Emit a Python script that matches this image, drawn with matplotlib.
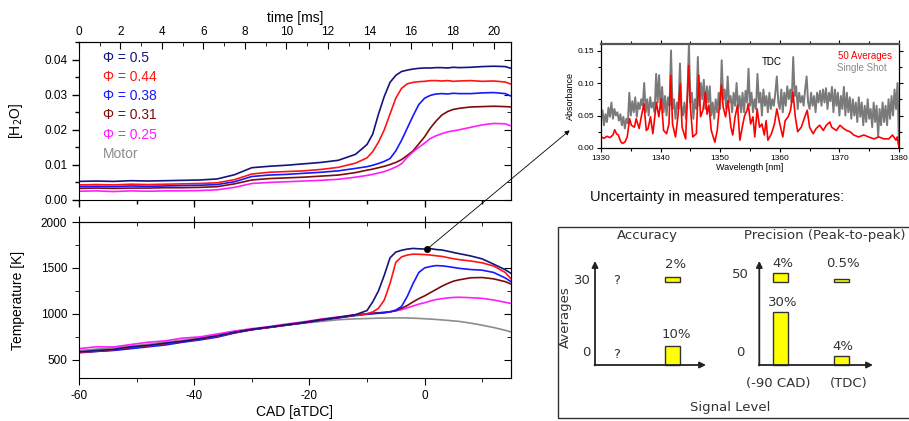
import matplotlib
matplotlib.use('Agg')
import matplotlib.pyplot as plt
import numpy as np
from matplotlib.patches import Rectangle, ConnectionPatch
from matplotlib.ticker import MultipleLocator

plt.rcParams['font.family'] = ['Liberation Sans', 'DejaVu Sans']
plt.rcParams['axes.unicode_minus'] = False

# ---- engine data ----
cad = [-60, -57, -54, -51, -48, -45, -42, -39, -36, -33, -30, -27, -24, -21, -18, -15, -12,
       -10, -9, -8, -7, -6, -5, -4, -3, -2, -1, 0, 1, 2, 3, 4, 5, 6, 8, 10, 12, 14, 15]

phi_labels = ['\u03a6 = 0.5', '\u03a6 = 0.44', '\u03a6 = 0.38', '\u03a6 = 0.31', '\u03a6 = 0.25']
phi_colors = ['#14147c', '#ff1414', '#1818ff', '#7c0c0c', '#ff1cff']
motor_color = '#8c8c8c'

h2o_050 = [.0053, .0054, .0053, .0055, .0054, .0055, .0056, .0057, .0060, .0072, .0092, .0096, .0099,
           .0103, .0107, .0113, .0130, .0158, .0188, .0245, .0295, .0335, .0355, .0366, .0370, .0373,
           .0375, .0376, .0376, .0377, .0377, .0376, .0378, .0377, .0378, .0380, .0381, .0380, .0375]
h2o_044 = [.0043, .0044, .0043, .0045, .0044, .0045, .0046, .0047, .0049, .0058, .0074, .0079, .0081,
           .0083, .0087, .0093, .0105, .0120, .0138, .0165, .0200, .0245, .0290, .0318, .0331, .0335,
           .0337, .0338, .0340, .0340, .0339, .0340, .0338, .0339, .0340, .0338, .0339, .0336, .0330]
h2o_038 = [.0038, .0039, .0038, .0040, .0039, .0040, .0041, .0042, .0044, .0052, .0067, .0071, .0073,
           .0076, .0079, .0083, .0090, .0095, .0099, .0104, .0110, .0118, .0140, .0170, .0205, .0240,
           .0272, .0290, .0298, .0302, .0303, .0302, .0304, .0303, .0303, .0305, .0306, .0303, .0296]
h2o_031 = [.0033, .0034, .0033, .0034, .0034, .0035, .0035, .0036, .0038, .0046, .0057, .0061, .0063,
           .0065, .0068, .0071, .0078, .0085, .0088, .0092, .0096, .0101, .0107, .0115, .0127, .0140,
           .0160, .0180, .0205, .0225, .0242, .0252, .0258, .0261, .0265, .0266, .0267, .0266, .0265]
h2o_025 = [.0025, .0026, .0024, .0026, .0025, .0026, .0026, .0027, .0029, .0036, .0047, .0050, .0052,
           .0054, .0056, .0059, .0065, .0070, .0073, .0077, .0081, .0087, .0094, .0103, .0122, .0137,
           .0150, .0162, .0175, .0183, .0189, .0194, .0197, .0200, .0207, .0214, .0218, .0217, .0211]

temp_050 = [585, 600, 612, 640, 655, 680, 700, 728, 760, 798, 830, 855, 880, 905, 935, 960, 990,
            1035, 1130, 1250, 1420, 1610, 1672, 1692, 1705, 1712, 1708, 1705, 1710, 1700, 1695, 1682,
            1668, 1655, 1630, 1598, 1540, 1480, 1440]
temp_044 = [580, 595, 610, 635, 650, 675, 700, 725, 755, 795, 828, 852, 878, 905, 935, 960, 985,
            1000, 1020, 1060, 1150, 1330, 1560, 1620, 1640, 1650, 1648, 1645, 1640, 1632, 1625, 1612,
            1600, 1590, 1575, 1555, 1520, 1450, 1380]
temp_038 = [575, 590, 600, 620, 640, 660, 690, 715, 745, 790, 825, 850, 875, 900, 930, 955, 980,
            995, 1000, 1005, 1010, 1020, 1040, 1080, 1190, 1330, 1450, 1500, 1515, 1525, 1522, 1515,
            1505, 1495, 1482, 1475, 1450, 1390, 1350]
temp_031 = [580, 590, 605, 625, 648, 670, 695, 722, 752, 795, 828, 852, 878, 903, 932, 958, 985,
            1000, 1005, 1010, 1015, 1022, 1035, 1060, 1090, 1130, 1165, 1195, 1230, 1265, 1300, 1330,
            1355, 1370, 1392, 1395, 1380, 1350, 1325]
temp_025 = [620, 640, 638, 665, 690, 705, 735, 748, 780, 812, 838, 860, 888, 912, 942, 965, 990,
            1000, 1005, 1010, 1015, 1022, 1030, 1045, 1065, 1085, 1105, 1120, 1140, 1155, 1165, 1172,
            1178, 1180, 1175, 1168, 1150, 1125, 1112]
temp_motor = [600, 615, 630, 648, 668, 692, 713, 738, 765, 800, 828, 853, 876, 898, 916, 935, 945,
              948, 950, 952, 953, 954, 955, 955, 954, 952, 949, 946, 942, 938, 933, 928, 922, 917,
              898, 875, 850, 820, 802]

marker_cad = 0.5
marker_temp = 1708

# ---- TDC absorption spectrum ----
red_wl = [1330.0, 1330.5, 1331.0, 1331.5, 1332.0, 1332.3, 1332.6, 1332.9, 1333.3, 1333.6, 1334.0,
          1334.4, 1334.8, 1335.1, 1335.6, 1335.9, 1336.4, 1336.8, 1337.2, 1337.6, 1337.9, 1338.3,
          1338.7, 1339.3, 1339.7, 1340.1, 1340.5, 1341.0, 1341.4, 1341.7, 1342.0, 1342.5, 1342.9,
          1343.3, 1343.6, 1344.2, 1344.7, 1345.0, 1345.4, 1346.0, 1346.4, 1346.7, 1347.1, 1347.5,
          1347.8, 1348.1, 1348.5, 1349.1, 1349.5, 1350.2, 1350.5, 1350.9, 1351.3, 1351.8, 1352.1,
          1352.5, 1352.9, 1353.3, 1353.7, 1354.1, 1354.5, 1354.7, 1355.1, 1355.5, 1355.8, 1356.2,
          1356.6, 1357.0, 1357.4, 1357.7, 1358.0, 1358.6, 1359.1, 1359.5, 1360.0, 1360.5, 1360.9,
          1361.4, 1361.8, 1362.2, 1362.6, 1363.0, 1363.6, 1364.2, 1364.6, 1365.0, 1365.6, 1366.1,
          1366.7, 1367.3, 1367.8, 1368.4, 1368.7, 1369.0, 1369.5, 1370.1, 1370.7, 1371.2, 1371.8,
          1372.4, 1373.2, 1374.1, 1374.9, 1375.8, 1376.6, 1377.5, 1378.3, 1378.9, 1379.5, 1379.7,
          1380.0]
red_abs = [0.017, 0.015, 0.018, 0.016, 0.020, 0.028, 0.022, 0.020, 0.010, 0.007, 0.009,
           0.017, 0.045, 0.035, 0.032, 0.045, 0.030, 0.050, 0.068, 0.027, 0.030, 0.048,
           0.022, 0.070, 0.048, 0.076, 0.027, 0.022, 0.037, 0.112, 0.037, 0.017, 0.048,
           0.099, 0.032, 0.014, 0.127, 0.063, 0.017, 0.022, 0.112, 0.048, 0.058, 0.086,
           0.052, 0.066, 0.027, 0.009, 0.027, 0.097, 0.063, 0.048, 0.073, 0.032, 0.020,
           0.048, 0.066, 0.012, 0.032, 0.050, 0.058, 0.068, 0.037, 0.048, 0.017, 0.060,
           0.032, 0.037, 0.020, 0.042, 0.012, 0.022, 0.037, 0.060, 0.037, 0.017, 0.042,
           0.048, 0.058, 0.086, 0.048, 0.025, 0.032, 0.048, 0.058, 0.032, 0.022, 0.030,
           0.035, 0.027, 0.035, 0.040, 0.032, 0.030, 0.027, 0.035, 0.030, 0.027, 0.025,
           0.020, 0.017, 0.020, 0.017, 0.014, 0.017, 0.014, 0.014, 0.020, 0.012, 0.017,
           0.000]

gray_abs = [0.045, 0.058, 0.035, 0.052, 0.040, 0.062, 0.048, 0.070, 0.045, 0.060, 0.050, 0.055,
            0.042, 0.052, 0.035, 0.048, 0.030, 0.045, 0.038, 0.085, 0.050, 0.072, 0.055, 0.078,
            0.048, 0.070, 0.060, 0.075, 0.065, 0.100, 0.055, 0.075, 0.050, 0.078, 0.062, 0.070,
            0.055, 0.114, 0.070, 0.112, 0.060, 0.094, 0.055, 0.080, 0.050, 0.078, 0.065, 0.150,
            0.060, 0.075, 0.045, 0.070, 0.060, 0.130, 0.065, 0.050, 0.070, 0.045, 0.080, 0.160,
            0.070, 0.085, 0.045, 0.075, 0.060, 0.140, 0.065, 0.100, 0.075, 0.105, 0.060, 0.095,
            0.070, 0.095, 0.050, 0.070, 0.045, 0.075, 0.055, 0.085, 0.060, 0.135, 0.075, 0.090,
            0.060, 0.110, 0.070, 0.080, 0.055, 0.085, 0.065, 0.100, 0.060, 0.080, 0.055, 0.085,
            0.055, 0.088, 0.070, 0.122, 0.065, 0.085, 0.055, 0.075, 0.060, 0.114, 0.070, 0.085,
            0.050, 0.090, 0.065, 0.080, 0.055, 0.085, 0.060, 0.075, 0.065, 0.085, 0.110, 0.070,
            0.060, 0.090, 0.055, 0.085, 0.065, 0.095, 0.075, 0.090, 0.070, 0.140, 0.080, 0.095,
            0.060, 0.085, 0.070, 0.080, 0.065, 0.090, 0.110, 0.070, 0.060, 0.085, 0.065, 0.080,
            0.055, 0.085, 0.070, 0.088, 0.065, 0.090, 0.070, 0.092, 0.060, 0.085, 0.072, 0.094,
            0.055, 0.090, 0.065, 0.085, 0.050, 0.080, 0.060, 0.094, 0.050, 0.085, 0.055, 0.078,
            0.045, 0.075, 0.050, 0.070, 0.040, 0.078, 0.048, 0.070, 0.035, 0.065, 0.040, 0.075,
            0.045, 0.060, 0.032, 0.070, 0.040, 0.065, 0.017, 0.060, 0.035, 0.070, 0.040, 0.065,
            0.035, 0.075, 0.045, 0.080, 0.050, 0.090, 0.060, 0.100, 0.000]
gray_wl = np.linspace(1330, 1380, len(gray_abs))

# ---- uncertainty schematic ----
acc_avg_ticks = ['0', '30']
prec_avg_ticks = ['0', '50']
acc_low_signal = ['?', '?']
acc_high_signal = [10, 2]        # % at 0 and 30 averages
prec_m90_signal = [30, 4]        # % at 0 and 50 averages
prec_tdc_signal = [4, 0.5]
signal_labels = ['(-90 CAD)', '(TDC)']

W, H = 909, 421
fig = plt.figure(figsize=(W / 100, H / 100), dpi=100)


def frac(x0, y0, x1, y1):
    # pixel box (top-left origin) -> figure fraction rect
    return [x0 / W, 1 - y1 / H, (x1 - x0) / W, (y1 - y0) / H]


ax_h = fig.add_axes(frac(79, 42, 511, 200))
ax_t = fig.add_axes(frac(79, 222, 511, 378))
ax_s = fig.add_axes(frac(601, 44, 899, 148))
ax_o = fig.add_axes([0, 0, 1, 1], zorder=-1)
ax_o.set_xlim(0, W)
ax_o.set_ylim(0, H)
ax_o.axis('off')

h2o_series = [h2o_050, h2o_044, h2o_038, h2o_031, h2o_025]
temp_series = [temp_050, temp_044, temp_038, temp_031, temp_025]

# [H2O] panel
for vals, c in zip(h2o_series, phi_colors):
    ax_h.plot(cad, vals, color=c, lw=1.2)
ax_h.set_xlim(-60, 15)
ax_h.set_ylim(0, 0.045)
ax_h.xaxis.set_major_locator(MultipleLocator(20))
ax_h.xaxis.set_minor_locator(MultipleLocator(10))
ax_h.set_xticklabels([])
ax_h.yaxis.set_major_locator(MultipleLocator(0.01))
ax_h.yaxis.set_minor_locator(MultipleLocator(0.005))
ax_h.yaxis.set_major_formatter(plt.FormatStrFormatter('%.2f'))
ax_h.tick_params(which='major', direction='out', length=5, labelsize=8.5, width=1)
ax_h.tick_params(which='minor', direction='out', length=3, width=1)
ax_h.set_ylabel('[H$_2$O]', fontsize=10)
ax_h.yaxis.set_label_coords(-0.125, 0.5)

sec = ax_h.secondary_xaxis('top', functions=(lambda c: (c + 60) / 3.6, lambda t: t * 3.6 - 60))
sec.xaxis.set_major_locator(MultipleLocator(2))
sec.xaxis.set_minor_locator(MultipleLocator(1))
sec.tick_params(which='major', direction='in', length=5, labelsize=8.5, pad=3)
sec.tick_params(which='minor', direction='in', length=3)
sec.set_xlabel('time [ms]', fontsize=10, labelpad=3)
rsec = ax_h.secondary_yaxis('right')
rsec.yaxis.set_major_locator(MultipleLocator(0.01))
rsec.yaxis.set_minor_locator(MultipleLocator(0.005))
rsec.tick_params(which='major', direction='in', length=5, labelright=False)
rsec.tick_params(which='minor', direction='in', length=3)

for i, (lab, c) in enumerate(zip(phi_labels + ['Motor'], phi_colors + [motor_color])):
    ax_h.text(0.056, 0.898 - i * 0.121, lab, color=c, fontsize=10,
              transform=ax_h.transAxes, va='center', ha='left')

# Temperature panel
ax_t.plot(cad, temp_motor, color=motor_color, lw=1.2)
for vals, c in zip(temp_series[::-1], phi_colors[::-1]):
    ax_t.plot(cad, vals, color=c, lw=1.2)
ax_t.plot(marker_cad, marker_temp, 'o', color='black', ms=4)
ax_t.set_xlim(-60, 15)
ax_t.set_ylim(300, 2000)
ax_t.xaxis.set_major_locator(MultipleLocator(20))
ax_t.xaxis.set_minor_locator(MultipleLocator(10))
ax_t.yaxis.set_major_locator(MultipleLocator(500))
ax_t.yaxis.set_minor_locator(MultipleLocator(250))
ax_t.tick_params(which='major', direction='out', length=5, labelsize=8.5)
ax_t.tick_params(which='minor', direction='out', length=3)
ax_t.set_xlabel('CAD [aTDC]', fontsize=10, labelpad=2)
ax_t.set_ylabel('Temperature [K]', fontsize=10)
ax_t.yaxis.set_label_coords(-0.125, 0.5)
tsec = ax_t.secondary_xaxis('top')
tsec.xaxis.set_major_locator(MultipleLocator(20))
tsec.xaxis.set_minor_locator(MultipleLocator(10))
tsec.tick_params(which='major', direction='inout', length=8, labeltop=False)
tsec.tick_params(which='minor', direction='in', length=3)
trsec = ax_t.secondary_yaxis('right')
trsec.yaxis.set_major_locator(MultipleLocator(500))
trsec.yaxis.set_minor_locator(MultipleLocator(250))
trsec.tick_params(which='major', direction='in', length=5, labelright=False)
trsec.tick_params(which='minor', direction='in', length=3)

# spectrum inset
ax_s.plot(gray_wl, gray_abs, color='#7a7a7a', lw=1.4)
ax_s.plot(red_wl, red_abs, color='#ff0000', lw=1.2)
ax_s.set_xlim(1330, 1380)
ax_s.set_ylim(0, 0.16)
ax_s.xaxis.set_major_locator(MultipleLocator(10))
ax_s.xaxis.set_minor_locator(MultipleLocator(5))
ax_s.yaxis.set_major_locator(MultipleLocator(0.05))
ax_s.yaxis.set_minor_locator(MultipleLocator(0.025))
ax_s.yaxis.set_major_formatter(plt.FormatStrFormatter('%.2f'))
ax_s.tick_params(which='both', direction='out', labelsize=6, length=3, width=0.8, pad=2)
ax_s.tick_params(which='minor', length=2)
ax_s.tick_params(top=True, right=True, which='both')
ax_s.set_xlabel('Wavelength [nm]', fontsize=6.5, labelpad=1)
ax_s.set_ylabel('Absorbance', fontsize=6.5, labelpad=2)
for sp in ax_s.spines.values():
    sp.set_linewidth(0.9)
ax_s.spines['top'].set_color('#555555')
ax_s.spines['top'].set_linewidth(1.6)
ax_s.text(0.574, 0.83, 'TDC', transform=ax_s.transAxes, fontsize=7, ha='center', va='center')
ax_s.text(0.977, 0.885, '50 Averages', transform=ax_s.transAxes, fontsize=7, color='#ff0000',
          ha='right', va='center')
ax_s.text(0.96, 0.77, 'Single Shot', transform=ax_s.transAxes, fontsize=7, color='#8a8a8a',
          ha='right', va='center')

# connector from marker to spectrum
con = ConnectionPatch(xyA=(marker_cad, marker_temp), coordsA=ax_t.transData,
                      xyB=(-0.105, 0.17), coordsB=ax_s.transAxes,
                      arrowstyle='-|>', mutation_scale=7, lw=0.6, color='black')
fig.add_artist(con)

fig.text(717 / W, 1 - 197 / H, 'Uncertainty in measured temperatures:', fontsize=10.5,
         ha='center', va='center', color='#111111')

# ---- schematic box (overlay axes in pixel units, y up) ----
sch = dict(family=['DejaVu Sans'], color='#333333')
ax_o.add_patch(Rectangle((558, 3), 400, 191, fill=False, lw=1.0, ec='#333333'))
arrow = dict(arrowstyle='-|>', lw=1.3, color='#222222', mutation_scale=9, shrinkA=0, shrinkB=0)
scale = 1.7              # px per percent
bar_min = 2              # keeps the smallest bars visible
base_rows = [56, 139]    # baselines for the two averages levels
q_rows = [66, 141]


def bar_h(vals):
    return [p * scale + bar_min for p in vals]


# accuracy
ax_o.annotate('', xy=(595, 160), xytext=(595, 55.5), arrowprops=arrow)
ax_o.annotate('', xy=(706, 56), xytext=(594.5, 56), arrowprops=arrow)
ax_o.text(647, 186, 'Accuracy', fontsize=9.5, ha='center', va='center', **sch)
ax_o.text(591, 141, acc_avg_ticks[1], fontsize=9.5, ha='right', va='center', **sch)
ax_o.text(586, 68, acc_avg_ticks[0], fontsize=9.5, ha='center', va='center', **sch)
for y, q in zip(q_rows, acc_low_signal):
    ax_o.text(617, y, q, fontsize=9.5, ha='center', va='center', **sch)
ax_o.bar([672.7] * 2, bar_h(acc_high_signal), bottom=base_rows, width=15,
         color='#ffff00', edgecolor='#333333', lw=1.0)
for b, h, p in zip(base_rows, bar_h(acc_high_signal), acc_high_signal):
    y = 157 if b > 100 else b + h + 11
    ax_o.text(676, y, f'{p:g}%', fontsize=9.5, ha='center', va='center', **sch)
ax_o.text(565, 104, 'Averages', fontsize=9.5, rotation=90, ha='center', va='center', **sch)

# precision
ax_o.annotate('', xy=(759.3, 160), xytext=(759.3, 55.5), arrowprops=arrow)
ax_o.annotate('', xy=(873, 56), xytext=(758.8, 56), arrowprops=arrow)
ax_o.text(744, 186, 'Precision (Peak-to-peak)', fontsize=9.5, ha='left', va='center', **sch)
ax_o.text(740, 146, prec_avg_ticks[1], fontsize=9.5, ha='center', va='center', **sch)
ax_o.text(740, 69, prec_avg_ticks[0], fontsize=9.5, ha='center', va='center', **sch)
for xc, vals in zip([780.8, 841.3], [prec_m90_signal, prec_tdc_signal]):
    ax_o.bar([xc] * 2, bar_h(vals), bottom=base_rows, width=15,
             color='#ffff00', edgecolor='#333333', lw=1.0)
    for b, h, p in zip(base_rows, bar_h(vals), vals):
        y = 157.5 if b > 100 else b + h + 10
        ax_o.text(xc + 2, y, f'{p:g}%', fontsize=9.5, ha='center', va='center', **sch)
for xc, lab in zip([778.3, 848.3], signal_labels):
    ax_o.text(xc, 38, lab, fontsize=9.5, ha='center', va='center', **sch)
ax_o.text(730, 13, 'Signal Level', fontsize=9.5, ha='center', va='center', **sch)

fig.savefig('out.png', dpi=100)
